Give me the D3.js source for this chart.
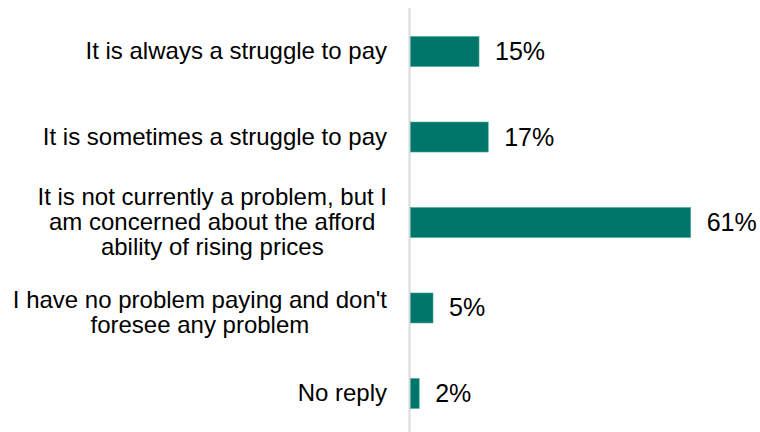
<!DOCTYPE html>
<html>
<head>
<meta charset="utf-8">
<script src="https://cdn.jsdelivr.net/npm/d3@7"></script>
<style>
  html, body { margin: 0; padding: 0; background: #ffffff; }
  svg { display: block; }
  text { font-family: "Liberation Sans", Arial, sans-serif; fill: #000000; }
</style>
</head>
<body>
<svg id="chart" width="760" height="432"></svg>
<script>
// Survey answers (each label split into its display lines) and their shares in percent
const categories = [
  ["It is always a struggle to pay"],
  ["It is sometimes a struggle to pay"],
  ["It is not currently a problem, but I", "am concerned about the afford", "ability of rising prices"],
  ["I have no problem paying and don't", "foresee any problem"],
  ["No reply"]
];
const values = [15, 17, 61, 5, 2];
const valueLabels = ["15%", "17%", "61%", "5%", "2%"];

const svg = d3.select("#chart");
const labelSize = 24;
const valueSize = 25;
const lineHeight = 25;

const x = d3.scaleLinear().domain([0, 61]).range([410, 690.7]);
const y = d3.scaleBand()
  .domain(d3.range(categories.length))
  .range([8.75, 436.25])
  .paddingInner(0.649)
  .paddingOuter(0.325);

// Vertical baseline axis
svg.append("line")
  .attr("x1", 409.5).attr("x2", 409.5)
  .attr("y1", 8).attr("y2", 432)
  .attr("stroke", "#d9d9d9")
  .attr("stroke-width", 2);

// Bars
svg.selectAll("rect.bar")
  .data(values)
  .join("rect")
  .attr("class", "bar")
  .attr("x", x(0) + 0.5)
  .attr("y", (d, i) => y(i))
  .attr("width", d => x(d) - x(0) - 0.5)
  .attr("height", y.bandwidth())
  .attr("fill", "#00766a")
  .attr("stroke", "#4aa89d")
  .attr("stroke-width", 0.6);

// Value labels
svg.selectAll("text.value")
  .data(values)
  .join("text")
  .attr("class", "value")
  .attr("x", d => x(d) + 16)
  .attr("y", (d, i) => y(i) + y.bandwidth() / 2 + 8.5)
  .style("font-size", valueSize + "px")
  .text((d, i) => valueLabels[i]);

// Category labels: block right-aligned near the axis, lines centred inside the block;
// two-line blocks sit slightly below the bar centre
const labelRight = 387;
categories.forEach((lines, i) => {
  const cy = y(i) + y.bandwidth() / 2;
  const shift = lines.length === 2 ? 5 : 0;
  const g = svg.append("g");
  const texts = lines.map((line, j) =>
    g.append("text")
      .style("font-size", labelSize + "px")
      .attr("text-anchor", "middle")
      .attr("y", cy + 7.5 + shift + (j - (lines.length - 1) / 2) * lineHeight)
      .text(line)
  );
  const w = d3.max(texts, t => t.node().getComputedTextLength());
  texts.forEach(t => t.attr("x", labelRight - w / 2));
});
</script>
</body>
</html>
